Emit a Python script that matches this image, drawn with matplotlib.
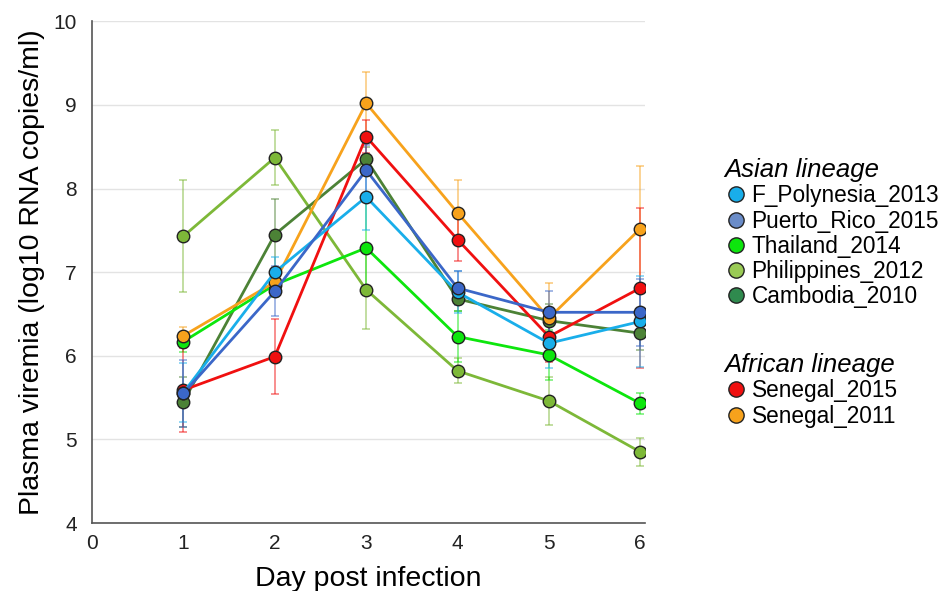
import matplotlib
matplotlib.use("Agg")
import matplotlib.pyplot as plt
from matplotlib.lines import Line2D

plt.rcParams['font.family'] = ['Liberation Sans', 'DejaVu Sans']

days = [1, 2, 3, 4, 5, 6]

names = ["F_Polynesia_2013", "Puerto_Rico_2015", "Thailand_2014",
         "Philippines_2012", "Cambodia_2010", "Senegal_2015", "Senegal_2011"]

f_polynesia = [5.56, 7.00, 7.90, 6.76, 6.15, 6.41]
puerto_rico = [5.55, 6.77, 8.22, 6.81, 6.52, 6.52]
thailand = [6.17, 6.85, 7.29, 6.23, 6.01, 5.43]
philippines = [7.43, 8.37, 6.79, 5.82, 5.46, 4.85]
cambodia = [5.45, 7.45, 8.35, 6.68, 6.42, 6.27]
senegal_2015 = [5.59, 5.99, 8.62, 7.39, 6.23, 6.81]
senegal_2011 = [6.24, 6.88, 9.02, 7.71, 6.45, 7.52]

f_polynesia_err = [0.35, 0.18, 0.40, 0.25, 0.30, 0.55]
puerto_rico_err = [0.40, 0.30, 0.30, 0.20, 0.25, 0.40]
thailand_err = [0.12, 0.15, 0.55, 0.30, 0.30, 0.13]
philippines_err = [0.67, 0.33, 0.47, 0.15, 0.29, 0.17]
cambodia_err = [0.30, 0.42, 0.15, 0.15, 0.20, 0.20]
senegal_2015_err = [0.50, 0.45, 0.20, 0.26, 0.30, 0.96]
senegal_2011_err = [0.10, 0.15, 0.37, 0.39, 0.42, 0.75]

colors = {
    "F_Polynesia_2013": "#19aeea",
    "Puerto_Rico_2015": "#3b67c8",
    "Thailand_2014": "#0de60d",
    "Philippines_2012": "#7db838",
    "Cambodia_2010": "#4c8236",
    "Senegal_2015": "#f01010",
    "Senegal_2011": "#f7a21c",
}
legend_colors = {
    "F_Polynesia_2013": "#19aeea",
    "Puerto_Rico_2015": "#6a8cc8",
    "Thailand_2014": "#0de60d",
    "Philippines_2012": "#9acb55",
    "Cambodia_2010": "#2f8a4e",
    "Senegal_2015": "#f01010",
    "Senegal_2011": "#f7a21c",
}

series = {
    "Philippines_2012": (philippines, philippines_err),
    "Cambodia_2010": (cambodia, cambodia_err),
    "Thailand_2014": (thailand, thailand_err),
    "Senegal_2011": (senegal_2011, senegal_2011_err),
    "Senegal_2015": (senegal_2015, senegal_2015_err),
    "F_Polynesia_2013": (f_polynesia, f_polynesia_err),
    "Puerto_Rico_2015": (puerto_rico, puerto_rico_err),
}

fig = plt.figure(figsize=(9.45, 5.91), dpi=100)
ax = fig.add_axes([0.0974, 0.115, 0.585, 0.849])

for name, (vals, errs) in series.items():
    c = colors[name]
    ax.errorbar(days, vals, yerr=errs, fmt="none", ecolor=c, alpha=0.55,
                elinewidth=1.2, capsize=3, capthick=1.2, zorder=2)
for name, (vals, errs) in series.items():
    c = colors[name]
    ax.plot(days, vals, color=c, lw=2.0, marker="o", markersize=9,
            markerfacecolor=c, markeredgecolor="#222222", markeredgewidth=1.0,
            zorder=3)

ax.set_xlim(0, 6.05)
ax.set_ylim(4, 10)
ax.set_xticks(range(0, 7))
ax.set_yticks(range(4, 11))
ax.tick_params(length=0, labelsize=15, colors="#222222")
ax.tick_params(axis="x", pad=8)
ax.tick_params(axis="y", pad=11)
ax.yaxis.grid(True, color="#e3e3e3", lw=1)
ax.set_axisbelow(True)
for s in ["top", "right"]:
    ax.spines[s].set_visible(False)
for s in ["left", "bottom"]:
    ax.spines[s].set_color("#555555")
    ax.spines[s].set_linewidth(1.2)
ax.set_xlabel("Day post infection", fontsize=20.5, labelpad=9)
ax.set_ylabel("Plasma viremia (log10 RNA copies/ml)", fontsize=20.5, labelpad=6)

asian = ["F_Polynesia_2013", "Puerto_Rico_2015", "Thailand_2014",
         "Philippines_2012", "Cambodia_2010"]
african = ["Senegal_2015", "Senegal_2011"]

def handles(keys):
    return [Line2D([], [], ls="none", marker="o", markersize=11,
                   markerfacecolor=legend_colors[k], markeredgecolor="#222222",
                   markeredgewidth=1.0, label=k) for k in keys]

leg1 = fig.legend(handles=handles(asian), loc="upper left",
                  bbox_to_anchor=(0.757, 0.748), frameon=False, fontsize=16.3,
                  title="Asian lineage", alignment="left",
                  title_fontproperties={"size": 18.5, "style": "italic"},
                  labelspacing=0.1, handletextpad=0.2, handlelength=1.0,
                  borderaxespad=0)
leg2 = fig.legend(handles=handles(african), loc="upper left",
                  bbox_to_anchor=(0.757, 0.418), frameon=False, fontsize=16.3,
                  title="African lineage", alignment="left",
                  title_fontproperties={"size": 18.5, "style": "italic"},
                  labelspacing=0.1, handletextpad=0.2, handlelength=1.0,
                  borderaxespad=0)

fig.savefig("out.png", dpi=100)
